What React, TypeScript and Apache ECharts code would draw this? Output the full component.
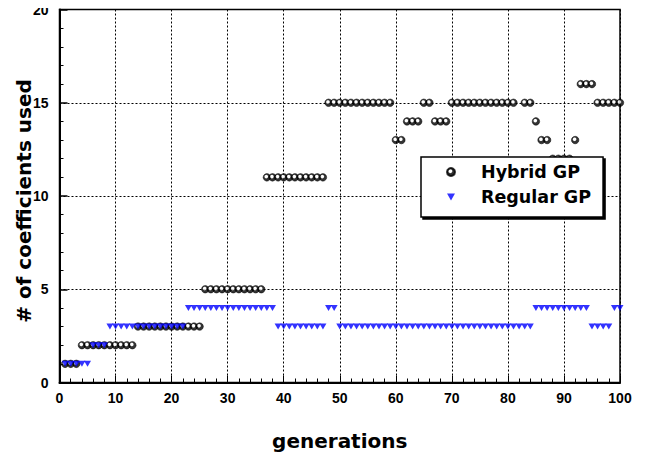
import React, { useEffect, useRef } from "react";
import * as echarts from "echarts";

const GENERATIONS = [
  1, 2, 3, 4, 5, 6, 7, 8, 9, 10,
  11, 12, 13, 14, 15, 16, 17, 18, 19, 20,
  21, 22, 23, 24, 25, 26, 27, 28, 29, 30,
  31, 32, 33, 34, 35, 36, 37, 38, 39, 40,
  41, 42, 43, 44, 45, 46, 47, 48, 49, 50,
  51, 52, 53, 54, 55, 56, 57, 58, 59, 60,
  61, 62, 63, 64, 65, 66, 67, 68, 69, 70,
  71, 72, 73, 74, 75, 76, 77, 78, 79, 80,
  81, 82, 83, 84, 85, 86, 87, 88, 89, 90,
  91, 92, 93, 94, 95, 96, 97, 98, 99, 100,
];

const HYBRID_GP: (number | null)[] = [
  1, 1, 1, 2, 2, 2, 2, 2, 2, 2,
  2, 2, 2, 3, 3, 3, 3, 3, 3, 3,
  3, 3, 3, 3, 3, 5, 5, 5, 5, 5,
  5, 5, 5, 5, 5, 5, 11, 11, 11, 11,
  11, 11, 11, 11, 11, 11, 11, 15, 15, 15,
  15, 15, 15, 15, 15, 15, 15, 15, 15, 13,
  13, 14, 14, 14, 15, 15, 14, 14, 14, 15,
  15, 15, 15, 15, 15, 15, 15, 15, 15, 15,
  15, null, 15, 15, 14, 13, 13, 12, 12, 12,
  12, 13, 16, 16, 16, 15, 15, 15, 15, 15,
];

const REGULAR_GP = [
  1, 1, 1, 1, 1, 2, 2, 2, 3, 3,
  3, 3, 3, 3, 3, 3, 3, 3, 3, 3,
  3, 3, 4, 4, 4, 4, 4, 4, 4, 4,
  4, 4, 4, 4, 4, 4, 4, 4, 3, 3,
  3, 3, 3, 3, 3, 3, 3, 4, 4, 3,
  3, 3, 3, 3, 3, 3, 3, 3, 3, 3,
  3, 3, 3, 3, 3, 3, 3, 3, 3, 3,
  3, 3, 3, 3, 3, 3, 3, 3, 3, 3,
  3, 3, 3, 3, 4, 4, 4, 4, 4, 4,
  4, 4, 4, 4, 3, 3, 3, 3, 4, 4,
];

const SERIES_NAMES = ["Hybrid GP", "Regular GP"];
const X_TITLE = "generations";
const Y_TITLE = "# of coefficients used";
const X_RANGE = { min: 0, max: 100, interval: 10 };
const Y_RANGE = { min: 0, max: 20, interval: 5 };

const TITLE_FONT = "'DejaVu Sans', sans-serif";
const TICK_FONT = "'Liberation Sans', Arial, sans-serif";

const SPHERE = {
  type: "radial",
  x: 0.42,
  y: 0.4,
  r: 0.55,
  colorStops: [
    { offset: 0, color: "#ffffff" },
    { offset: 0.3, color: "#ffffff" },
    { offset: 0.55, color: "#000000" },
    { offset: 1, color: "#000000" },
  ],
};

export default function App() {
  const ref = useRef<HTMLDivElement>(null);

  useEffect(() => {
    if (!ref.current) return;
    const chart = echarts.init(ref.current, undefined, { renderer: "svg" });

    const hybridData = GENERATIONS.map((g, i) => [g, HYBRID_GP[i]]).filter(
      (d) => d[1] !== null
    );
    const regularData = GENERATIONS.map((g, i) => [g, REGULAR_GP[i]]);

    const dotted = { color: "#000", width: 1, type: [2, 2] as any };

    chart.setOption({
      animation: false,
      backgroundColor: "#fff",
      grid: {
        left: 59.5,
        right: 26,
        top: 9.5,
        bottom: 80.5,
        containLabel: false,
        outerBoundsMode: "none",
        show: true,
        borderColor: "#000",
        borderWidth: 1.5,
        backgroundColor: "transparent",
      },
      legend: {
        orient: "vertical",
        left: 421,
        top: 157,
        padding: [5, 12, 10, 25],
        itemWidth: 8,
        itemHeight: 8,
        itemGap: 5,
        backgroundColor: "#fff",
        borderColor: "#000",
        borderWidth: 1.5,
        shadowColor: "#000",
        shadowOffsetX: 2,
        shadowOffsetY: 2,
        shadowBlur: 0,
        selectedMode: false,
        data: [
          { name: SERIES_NAMES[0], icon: "circle" },
          {
            name: SERIES_NAMES[1],
            icon: "path://M0,0 L10,0 L5,9 Z",
            itemStyle: { color: "#0000ff" },
          },
        ],
        textStyle: {
          fontFamily: TITLE_FONT,
          fontWeight: "bold",
          fontSize: 17.5,
          lineHeight: 20,
          color: "#000",
          padding: [0, 0, 0, 21],
        },
      },
      xAxis: {
        type: "value",
        min: X_RANGE.min,
        max: X_RANGE.max,
        interval: X_RANGE.interval,
        name: X_TITLE,
        nameLocation: "middle",
        nameGap: 48,
        nameMoveOverlap: false,
        nameTextStyle: {
          fontFamily: TITLE_FONT,
          fontWeight: "bold",
          fontSize: 20,
          color: "#000",
        },
        axisLine: { show: true, lineStyle: { color: "#000", width: 2 } },
        axisTick: { show: true, inside: true, length: 7, lineStyle: { color: "#000", width: 1 } },
        minorTick: { show: true, splitNumber: 5, length: 4, lineStyle: { color: "#000", width: 1 } },
        splitLine: { show: true, lineStyle: dotted },
        axisLabel: {
          margin: 8,
          fontFamily: TICK_FONT,
          fontWeight: "bold",
          fontSize: 14,
          color: "#000",
        },
      },
      yAxis: {
        type: "value",
        min: Y_RANGE.min,
        max: Y_RANGE.max,
        interval: Y_RANGE.interval,
        name: Y_TITLE,
        nameLocation: "middle",
        nameGap: 26,
        nameMoveOverlap: false,
        nameTextStyle: {
          fontFamily: TITLE_FONT,
          fontWeight: "bold",
          fontSize: 20,
          color: "#000",
          padding: [0, 10, 0, 0],
        },
        axisLine: { show: true, lineStyle: { color: "#000", width: 2 } },
        axisTick: { show: true, inside: true, length: 8, lineStyle: { color: "#000", width: 1.5 } },
        minorTick: { show: true, splitNumber: 5, length: 4, lineStyle: { color: "#000", width: 1 } },
        splitLine: { show: true, lineStyle: dotted },
        axisLabel: {
          margin: 11,
          fontFamily: TICK_FONT,
          fontWeight: "bold",
          fontSize: 14,
          color: "#000",
        },
      },
      series: [
        {
          name: SERIES_NAMES[0],
          type: "scatter",
          data: hybridData,
          symbol: "circle",
          symbolSize: 7.5,
          itemStyle: {
            color: SPHERE,
            borderColor: "#000",
            borderWidth: 0.6,
          },
          z: 2,
        },
        {
          name: SERIES_NAMES[1],
          type: "scatter",
          data: regularData,
          symbol: "triangle",
          symbolRotate: 180,
          symbolSize: [7, 6],
          itemStyle: { color: "#0000ff" },
          z: 3,
        },
      ],
    });

    return () => chart.dispose();
  }, []);

  return <div ref={ref} style={{ width: 646, height: 463, margin: -8 }} />;
}
